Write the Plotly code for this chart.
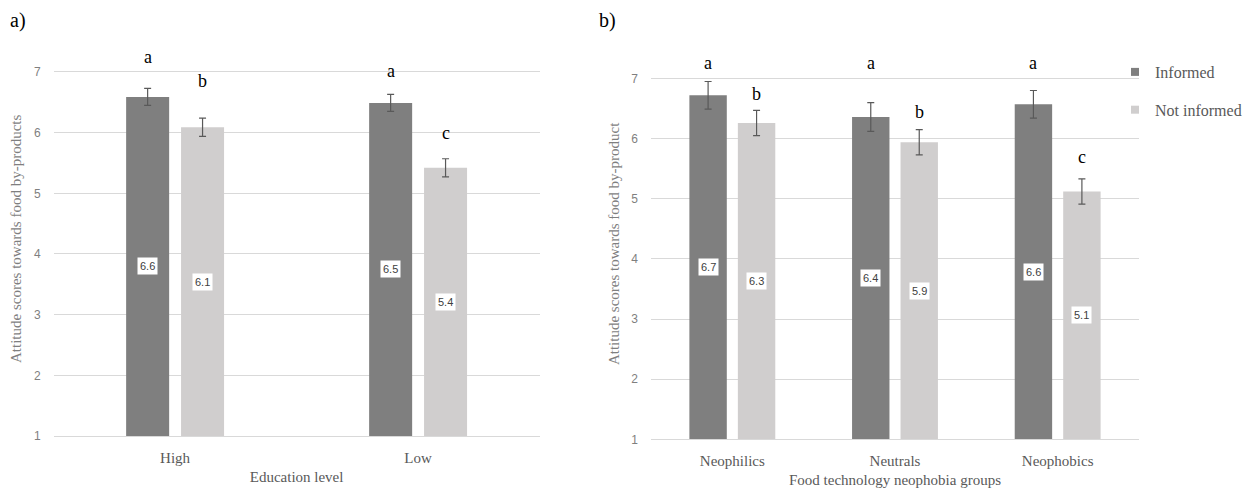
import plotly.graph_objects as go

# ---------------- data ----------------
edu_levels = ["High", "Low"]
edu_informed = [6.59, 6.49]
edu_informed_err = [0.14, 0.14]
edu_not_informed = [6.09, 5.42]
edu_not_informed_err = [0.15, 0.15]
edu_letters_informed = ["a", "a"]
edu_letters_not_informed = ["b", "c"]
edu_letter_y_informed = [7.25, 7.02]
edu_letter_y_not_informed = [6.85, 5.99]

neo_groups = ["Neophilics", "Neutrals", "Neophobics"]
neo_informed = [6.72, 6.36, 6.57]
neo_informed_err = [0.23, 0.24, 0.23]
neo_not_informed = [6.26, 5.94, 5.12]
neo_not_informed_err = [0.21, 0.21, 0.21]
neo_letters_informed = ["a", "a", "a"]
neo_letters_not_informed = ["b", "b", "c"]
neo_letter_y_informed = [7.26, 7.26, 7.26]
neo_letter_y_not_informed = [6.75, 6.45, 5.70]

y_ticks = [1, 2, 3, 4, 5, 6, 7]

# ---------------- style ----------------
DARK = "#7f7f7f"
LIGHT = "#d0cece"
GRID = "#d9d9d9"
ERR = "#595959"
SERIF = "Liberation Serif, Times New Roman, serif"
SANS = "Liberation Sans, Arial, sans-serif"
W, H = 1251, 493
YTOP = 7.5  # headroom above the last gridline for the letters

fig = go.Figure()

panels = [
    dict(cats=edu_levels, inf=edu_informed, inf_e=edu_informed_err,
         ninf=edu_not_informed, ninf_e=edu_not_informed_err,
         li=edu_letters_informed, ln=edu_letters_not_informed,
         lyi=edu_letter_y_informed, lyn=edu_letter_y_not_informed,
         xa="x", ya="y", bw=0.177, gap=0.049),
    dict(cats=neo_groups, inf=neo_informed, inf_e=neo_informed_err,
         ninf=neo_not_informed, ninf_e=neo_not_informed_err,
         li=neo_letters_informed, ln=neo_letters_not_informed,
         lyi=neo_letter_y_informed, lyn=neo_letter_y_not_informed,
         xa="x2", ya="y2", bw=0.23, gap=0.068),
]

annotations = []
for p in panels:
    bw, gap = p["bw"], p["gap"]
    for name, vals, errs, col, offs in [
        ("Informed", p["inf"], p["inf_e"], DARK, -(gap / 2 + bw)),
        ("Not informed", p["ninf"], p["ninf_e"], LIGHT, gap / 2),
    ]:
        fig.add_trace(go.Bar(
            x=p["cats"], y=vals, name=name, marker=dict(color=col, line=dict(width=0)),
            width=bw, offset=offs,
            error_y=dict(type="data", array=errs, visible=True, color=ERR,
                         thickness=1.2, width=3.5),
            xaxis=p["xa"], yaxis=p["ya"], showlegend=False, hoverinfo="skip",
        ))
    off = gap / 2 + bw / 2
    for i, c in enumerate(p["cats"]):
        for vals, letters, ly, sgn in [(p["inf"], p["li"], p["lyi"], -1),
                                       (p["ninf"], p["ln"], p["lyn"], 1)]:
            xpos = i + sgn * off
            annotations.append(dict(
                x=xpos, y=(1 + vals[i]) / 2, xref=p["xa"], yref=p["ya"],
                text=f"{vals[i]:.1f}", showarrow=False, bgcolor="white",
                borderpad=2, font=dict(family=SANS, size=11, color="#404040")))
            annotations.append(dict(
                x=xpos, y=ly[i], xref=p["xa"], yref=p["ya"], text=letters[i],
                showarrow=False, yanchor="middle",
                font=dict(family=SERIF, size=18, color="#000000")))

# legend entries (small square swatches like the original)
for name, col in [("Informed", DARK), ("Not informed", LIGHT)]:
    fig.add_trace(go.Scatter(
        x=[None], y=[None], mode="markers", name=name,
        marker=dict(symbol="square", size=8, color=col),
        xaxis="x2", yaxis="y2", legendgroup=name, showlegend=True))

annotations.append(dict(x=8 / W, y=1 - 20 / H, xref="paper", yref="paper", text="a)",
                        showarrow=False, xanchor="left", yanchor="middle",
                        font=dict(family=SERIF, size=20, color="#000000")))
annotations.append(dict(x=597 / W, y=1 - 20 / H, xref="paper", yref="paper", text="b)",
                        showarrow=False, xanchor="left", yanchor="middle",
                        font=dict(family=SERIF, size=20, color="#000000")))

yaxis_common = dict(range=[1, YTOP], tickvals=y_ticks, showgrid=True, gridcolor=GRID,
                    gridwidth=1, zeroline=False, showline=False, ticks="",
                    ticklabelstandoff=12, automargin=False,
                    tickfont=dict(family=SANS, size=12, color="#7f7f7f"),
                    fixedrange=True)
xaxis_common = dict(showgrid=False, zeroline=False, showline=True, linecolor=GRID,
                    ticks="", ticklabelstandoff=8, automargin=False,
                    tickfont=dict(family=SERIF, size=15, color="#595959"),
                    fixedrange=True)


def ydomain(px_one, px_seven):
    unit = (px_one - px_seven) / 6.0
    px_top = px_seven - (YTOP - 7) * unit
    return [1 - px_one / H, 1 - px_top / H]


fig.update_layout(
    width=W, height=H, margin=dict(l=0, r=0, t=0, b=0, autoexpand=False),
    paper_bgcolor="white", plot_bgcolor="white",
    barmode="overlay",
    xaxis=dict(domain=[53.6 / W, 539.6 / W], anchor="y", range=[-0.5, len(edu_levels) - 0.5],
               **xaxis_common,
               title=dict(text="Education level", standoff=6,
                          font=dict(family=SERIF, size=15, color="#595959"))),
    yaxis=dict(domain=ydomain(436, 72), anchor="x", **yaxis_common,
               title=dict(text="Attitude scores towards food by-products", standoff=8,
                          font=dict(family=SERIF, size=15, color="#7f7f7f"))),
    xaxis2=dict(domain=[651 / W, 1139 / W], anchor="y2", range=[-0.5, len(neo_groups) - 0.5],
                **xaxis_common,
                title=dict(text="Food technology neophobia groups", standoff=6,
                           font=dict(family=SERIF, size=15, color="#595959"))),
    yaxis2=dict(domain=ydomain(439.3, 78.5), anchor="x2", **yaxis_common,
                title=dict(text="Attitude scores towards food by-product", standoff=8,
                           font=dict(family=SERIF, size=15, color="#7f7f7f"))),
    legend=dict(x=1115 / W, y=1 - 55 / H, xanchor="left", yanchor="top",
                tracegroupgap=14, itemwidth=30,
                font=dict(family=SERIF, size=16, color="#595959"),
                bgcolor="rgba(0,0,0,0)"),
    annotations=annotations,
    showlegend=True,
)

fig.write_html(
    "out.html",
    config={"displayModeBar": False, "staticPlot": True},
    post_script="document.body.style.margin='0';document.body.style.overflow='hidden';",
)
